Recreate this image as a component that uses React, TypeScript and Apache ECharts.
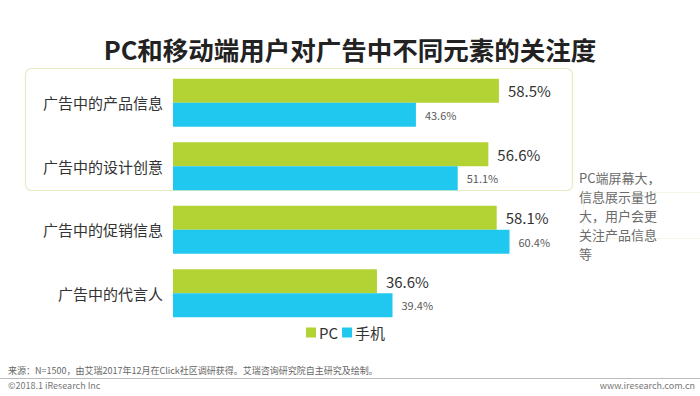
import React, { useEffect, useRef } from "react";
import * as echarts from "echarts";

const categories = ["广告中的产品信息", "广告中的设计创意", "广告中的促销信息", "广告中的代言人"];
const pcValues = [58.5, 56.6, 58.1, 36.6];
const mobileValues = [43.6, 51.1, 60.4, 39.4];
const seriesNames = ["PC", "手机"];
const title = "PC和移动端用户对广告中不同元素的关注度";
const noteLines = ["PC端屏幕大，", "信息展示量也", "大，用户会更", "关注产品信息", "等"];
const sourceText = "来源：N=1500，由艾瑞2017年12月在Click社区调研获得。艾瑞咨询研究院自主研究及绘制。";
const copyright = "©2018.1 iResearch Inc";
const website = "www.iresearch.com.cn";

const FONT = "'Noto Sans CJK SC', 'Noto Sans', sans-serif";

export default function App() {
  const ref = useRef<HTMLDivElement>(null);
  useEffect(() => {
    if (!ref.current) return;
    const chart = echarts.init(ref.current, undefined, { renderer: "svg" });
    const noteGraphics = noteLines.map((line, i) => ({
      type: "text",
      left: 579,
      top: 171 + i * 19,
      style: { text: line, fontSize: 13, fill: "#6B6B6B", fontFamily: FONT },
    }));
    chart.setOption({
      animation: false,
      backgroundColor: "#ffffff",
      textStyle: { fontFamily: FONT },
      title: {
        text: title,
        left: "center",
        top: 31,
        textStyle: { fontSize: 25.5, fontWeight: "bold", color: "#222222", fontFamily: FONT },
      },
      legend: {
        data: seriesNames,
        left: 301,
        top: 320,
        itemWidth: 10,
        itemHeight: 10,
        itemGap: 4,
        icon: "rect",
        textStyle: { fontSize: 15, color: "#333333", padding: [0, 0, 0, -2] },
      },
      grid: { left: 173, top: 71, width: 390, height: 254, containLabel: false },
      xAxis: {
        type: "value",
        min: 0,
        max: 70,
        show: false,
      },
      yAxis: {
        type: "category",
        data: categories,
        inverse: true,
        axisLine: { show: false },
        axisTick: { show: false },
        axisLabel: { fontSize: 15, color: "#333333", margin: 10 },
      },
      series: [
        {
          name: seriesNames[0],
          type: "bar",
          data: pcValues,
          barWidth: 24,
          barGap: "0%",
          itemStyle: { color: "#B3D234" },
          label: {
            show: true,
            position: "right",
            distance: 9,
            fontSize: 15,
            color: "#333333",
            formatter: (p: any) => p.value.toFixed(1) + "%",
          },
        },
        {
          name: seriesNames[1],
          type: "bar",
          data: mobileValues,
          barWidth: 24,
          barGap: "0%",
          itemStyle: { color: "#20C8F0" },
          label: {
            show: true,
            position: "right",
            distance: 9,
            fontSize: 11,
            color: "#595959",
            formatter: (p: any) => p.value.toFixed(1) + "%",
          },
        },
      ],
      graphic: [
        {
          type: "rect",
          shape: { x: 25.5, y: 68.5, width: 547, height: 122, r: 6 },
          style: { fill: "none", stroke: "#E3EDC4", lineWidth: 1.2 },
          silent: true,
        },
        {
          type: "rect",
          shape: { x: 583.5, y: 192.5, width: 130, height: 46 },
          style: { fill: "none", stroke: "#F3F7E8", lineWidth: 1 },
          silent: true,
        },
        ...noteGraphics,
        {
          type: "text",
          left: 8,
          top: 366,
          style: { text: sourceText, fontSize: 9, fill: "#666666", fontFamily: FONT },
        },
        {
          type: "line",
          shape: { x1: 0, y1: 378.5, x2: 700, y2: 378.5 },
          style: { stroke: "#BBBBBB", lineWidth: 1 },
        },
        {
          type: "text",
          left: 8,
          top: 381,
          style: { text: copyright, fontSize: 9, fill: "#777777", fontFamily: FONT },
        },
        {
          type: "text",
          right: 5,
          top: 381,
          style: { text: website, fontSize: 9, fill: "#777777", fontFamily: FONT },
        },
      ],
    });
    return () => chart.dispose();
  }, []);
  return (
    <div
      ref={ref}
      style={{ position: "absolute", left: 0, top: 0, width: 700, height: 396 }}
    />
  );
}
